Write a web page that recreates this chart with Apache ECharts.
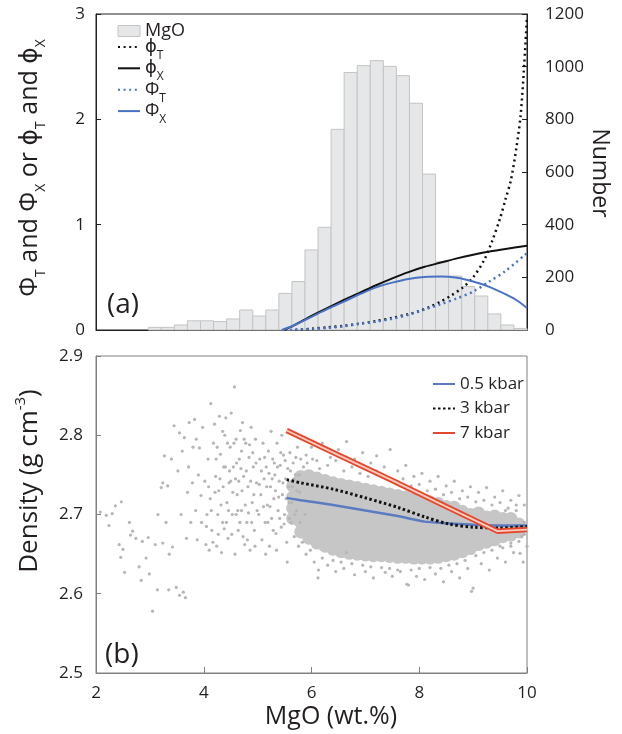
<!DOCTYPE html>
<html lang="en">
<head>
<meta charset="UTF-8">
<title>MgO histogram and melt density</title>
<script src="https://cdn.jsdelivr.net/npm/echarts@6/dist/echarts.min.js"></script>
<style>
    html, body { margin: 0; padding: 0; background: #fff; }
    #main { width: 622px; height: 734px; }
</style>
</head>
<body>
<div id="main"></div>
<script type="text/javascript">
    // ---- panel (a): MgO histogram, 33 bins between 2 and 10 wt.% ----
    var binStart = 2, binWidth = 8 / 33;
    var mgoCounts = [0, 0, 0, 0, 10, 10, 19, 35, 35, 32, 42, 76, 53, 76, 139, 184, 304, 390,
                     762, 978, 1004, 1023, 1001, 966, 861, 592, 259, 205, 165, 129, 61, 19, 6];

    // curves on the left axis, [MgO, value]
    var phiT = [[5.70, 0.0], [6.0, 0.012], [6.3, 0.025], [6.6, 0.04], [6.9, 0.06], [7.2, 0.085],
                [7.5, 0.115], [7.8, 0.15], [8.0, 0.18], [8.2, 0.22], [8.4, 0.27], [8.6, 0.33],
                [8.8, 0.40], [9.0, 0.50], [9.2, 0.66], [9.35, 0.84], [9.5, 1.06], [9.6, 1.24],
                [9.7, 1.42], [9.8, 1.72], [9.88, 2.03], [9.94, 2.45], [10.0, 2.97]];
    var phiX = [[5.50, 0.0], [5.7, 0.05], [6.0, 0.135], [6.3, 0.21], [6.6, 0.285], [6.9, 0.355],
                [7.2, 0.425], [7.5, 0.49], [7.8, 0.55], [8.1, 0.60], [8.4, 0.64], [8.7, 0.68],
                [9.0, 0.715], [9.3, 0.745], [9.6, 0.77], [10.0, 0.80]];
    var bigPhiT = [[5.60, 0.0], [6.0, 0.01], [6.3, 0.02], [6.6, 0.035], [6.9, 0.06], [7.2, 0.08],
                   [7.5, 0.107], [7.8, 0.145], [8.1, 0.195], [8.4, 0.245], [8.7, 0.30], [9.0, 0.365],
                   [9.3, 0.46], [9.6, 0.56], [10.0, 0.73]];
    var bigPhiX = [[5.45, 0.0], [5.7, 0.05], [6.0, 0.125], [6.3, 0.20], [6.6, 0.27], [6.9, 0.34],
                   [7.2, 0.405], [7.5, 0.45], [7.8, 0.485], [8.1, 0.503], [8.4, 0.507], [8.7, 0.495],
                   [9.0, 0.46], [9.3, 0.41], [9.6, 0.34], [9.8, 0.285], [10.0, 0.21]];

    // ---- panel (b): density vs MgO ----
    var kbar05 = [[5.54, 2.721], [5.8, 2.718], [6.4, 2.712], [7.0, 2.705], [7.6, 2.698], [8.1, 2.691],
                  [8.5, 2.689], [9.0, 2.687], [9.5, 2.686], [10.0, 2.686]];
    var kbar3 = [[5.54, 2.744], [5.8, 2.740], [6.4, 2.732], [7.0, 2.721], [7.6, 2.709], [8.1, 2.697],
                 [8.55, 2.688], [9.0, 2.684], [9.5, 2.683], [10.0, 2.685]];
    var kbar7 = [[5.54, 2.806], [6.5, 2.775], [7.5, 2.743], [8.5, 2.710], [9.45, 2.679], [10.0, 2.681]];

    // scattered samples around the cloud, [MgO, density]
    var samplePts = [
        [2.08,2.703],[2.19,2.699],[2.24,2.686],[2.30,2.701],[2.36,2.711],[2.47,2.716],[2.43,2.662],[2.50,2.656],
        [2.46,2.646],[2.53,2.627],[2.64,2.674],[2.68,2.679],[2.74,2.670],[2.80,2.634],[2.86,2.666],[2.84,2.617],
        [2.93,2.645],[2.99,2.625],[2.97,2.671],[2.62,2.690],
        [3.05,2.578],[3.10,2.662],[3.14,2.605],[3.21,2.734],[3.24,2.740],[3.24,2.664],[3.27,2.774],[3.30,2.690],
        [3.33,2.736],[3.36,2.650],[3.42,2.659],[3.45,2.812],[3.49,2.608],[3.52,2.755],[3.55,2.803],[3.55,2.598],
        [3.58,2.700],[3.62,2.602],[3.64,2.797],[3.66,2.595],[3.70,2.728],[3.72,2.760],[3.73,2.816],[3.76,2.690],
        [3.79,2.740],[3.80,2.785],[3.83,2.820],[3.85,2.705],[3.86,2.795],[3.88,2.668],[3.90,2.750],[3.92,2.784],
        [3.95,2.724],[3.96,2.690],[3.98,2.810],[3.40,2.770],[3.60,2.780],[3.68,2.670],[3.15,2.700],[3.35,2.605],
        [4.02,2.742],[4.04,2.662],[4.06,2.700],[4.08,2.770],[4.10,2.655],[4.13,2.840],[4.12,2.720],[4.15,2.680],
        [4.18,2.790],[4.20,2.814],[4.22,2.748],[4.24,2.660],[4.26,2.700],[4.28,2.730],[4.29,2.824],[4.31,2.776],
        [4.33,2.652],[4.35,2.690],[4.37,2.760],[4.39,2.800],[4.41,2.822],[4.43,2.715],[4.45,2.670],[4.47,2.740],
        [4.49,2.785],[4.51,2.828],[4.53,2.700],[4.55,2.760],[4.57,2.861],[4.58,2.650],[4.60,2.795],[4.62,2.725],
        [4.64,2.680],[4.66,2.770],[4.68,2.806],[4.70,2.705],[4.72,2.816],[4.74,2.748],[4.76,2.662],[4.78,2.790],
        [4.80,2.690],[4.82,2.735],[4.84,2.772],[4.86,2.655],[4.88,2.810],[4.90,2.715],[4.92,2.760],[4.94,2.680],
        [4.96,2.795],[4.98,2.740],[4.35,2.805],[4.50,2.742],[4.70,2.780],[4.25,2.785],[4.60,2.700],
        [4.05,2.685],[4.09,2.735],[4.14,2.705],[4.17,2.665],[4.21,2.728],[4.23,2.770],[4.27,2.675],[4.30,2.745],
        [4.32,2.712],[4.36,2.735],[4.38,2.682],[4.40,2.760],[4.42,2.690],[4.44,2.790],[4.46,2.705],[4.48,2.755],
        [4.52,2.675],[4.54,2.728],[4.56,2.790],[4.59,2.745],[4.61,2.765],[4.63,2.705],[4.65,2.742],[4.67,2.690],
        [4.69,2.758],[4.71,2.730],[4.73,2.672],[4.75,2.795],[4.77,2.712],[4.79,2.755],[4.81,2.668],[4.83,2.702],
        [4.85,2.788],[4.87,2.742],[4.89,2.690],[4.91,2.778],[4.93,2.725],[4.95,2.660],[4.97,2.765],[4.99,2.705],
        [5.02,2.700],[5.04,2.770],[5.06,2.725],[5.08,2.668],[5.10,2.790],[5.12,2.745],[5.14,2.690],[5.16,2.760],
        [5.18,2.712],[5.20,2.780],[5.22,2.660],[5.24,2.735],[5.26,2.695],[5.28,2.770],[5.30,2.720],[5.32,2.750],
        [5.34,2.676],[5.36,2.790],[5.38,2.705],[5.40,2.742],[5.42,2.762],[5.44,2.684],[5.46,2.725],[5.48,2.775],
        [5.50,2.700],[5.52,2.745],[5.54,2.665],[5.56,2.758],[5.58,2.715],[5.60,2.778],[5.62,2.690],[5.64,2.735],
        [5.66,2.765],[5.68,2.672],[5.70,2.750],[5.72,2.705],[5.74,2.785],[5.76,2.660],[5.78,2.728],[5.80,2.770],
        [5.15,2.650],[5.35,2.655],[5.55,2.640],[5.25,2.805],[5.45,2.800],
        [5.03,2.738],[5.07,2.755],[5.11,2.710],[5.13,2.772],[5.17,2.735],[5.19,2.690],[5.21,2.752],[5.23,2.710],
        [5.27,2.745],[5.29,2.680],[5.31,2.765],[5.33,2.730],[5.37,2.760],[5.39,2.722],[5.41,2.695],[5.43,2.778],
        [5.47,2.740],[5.49,2.688],[5.51,2.768],[5.53,2.720],[5.57,2.735],[5.59,2.695],[5.61,2.755],[5.63,2.715],
        [5.67,2.745],[5.69,2.700],[5.71,2.772],[5.73,2.730],[5.77,2.750],[5.79,2.690],[5.85,2.760],[5.88,2.700],
        [5.92,2.765],[5.98,2.655],[6.02,2.770],[5.83,2.665],
        [5.90,2.775],[6.00,2.785],[6.10,2.768],[6.20,2.790],[6.35,2.772],[6.50,2.782],[6.65,2.792],[6.80,2.770],
        [6.95,2.778],[7.10,2.765],[7.21,2.774],[7.35,2.760],[7.46,2.782],[7.60,2.755],[7.75,2.762],[7.90,2.748],
        [8.05,2.752],[8.20,2.742],[8.35,2.748],[8.50,2.736],[8.65,2.742],[8.80,2.730],[8.95,2.735],[9.10,2.728],
        [9.25,2.734],[9.40,2.722],[9.55,2.730],[9.70,2.718],[9.85,2.724],[9.95,2.712],
        [6.15,2.758],[6.30,2.762],[6.45,2.768],[6.60,2.755],[6.75,2.760],[6.90,2.752],[7.05,2.748],[7.20,2.755],
        [7.40,2.745],[7.55,2.740],[7.70,2.745],[7.85,2.736],[8.00,2.738],[8.15,2.730],[8.30,2.732],[8.45,2.725],
        [8.60,2.728],[8.75,2.720],[8.90,2.722],[9.05,2.716],[9.20,2.718],[9.35,2.712],[9.50,2.715],[9.65,2.708],
        [9.80,2.712],
        [5.90,2.650],[6.05,2.640],[6.13,2.630],[6.12,2.620],[6.30,2.636],[6.45,2.628],[6.60,2.632],[6.65,2.652],
        [6.80,2.624],[7.00,2.628],[7.15,2.620],[7.37,2.627],[7.50,2.622],[7.65,2.628],[7.77,2.612],[7.80,2.611],
        [7.95,2.622],[8.10,2.618],[8.30,2.625],[8.45,2.615],[8.60,2.628],[8.75,2.620],[8.90,2.632],[8.97,2.603],
        [9.00,2.607],[9.15,2.638],[9.30,2.630],[9.45,2.645],[9.60,2.640],[9.75,2.652],[9.87,2.651],[9.93,2.640],
        [6.20,2.645],[6.40,2.642],[6.55,2.640],[6.75,2.638],[6.95,2.636],[7.10,2.634],[7.30,2.633],[7.45,2.632],
        [7.60,2.630],[7.85,2.630],[8.00,2.632],[8.20,2.633],[8.40,2.632],[8.55,2.636],[8.70,2.638],[8.85,2.642],
        [9.05,2.648],[9.20,2.652],[9.35,2.655],[9.55,2.658],[9.70,2.664],[9.85,2.666],[9.95,2.675],
        [10.0,2.660],[9.50,2.660],[9.60,2.705],[9.70,2.660],[9.80,2.705],[9.90,2.672],[9.95,2.690]
    ];

    // the dense core of the cloud, read column by column: [MgO, [densities]]
    var coreCols = [
        [5.65, [2.695, 2.708, 2.722, 2.736]],
        [5.80, [2.678, 2.690, 2.702, 2.714, 2.726, 2.738, 2.748]],
        [5.95, [2.670, 2.682, 2.694, 2.706, 2.718, 2.730, 2.742, 2.749]],
        [6.10, [2.664, 2.676, 2.688, 2.700, 2.712, 2.724, 2.736, 2.746]],
        [6.25, [2.660, 2.672, 2.684, 2.696, 2.708, 2.720, 2.732, 2.743]],
        [6.40, [2.656, 2.668, 2.680, 2.692, 2.704, 2.716, 2.728, 2.740]],
        [6.55, [2.653, 2.665, 2.677, 2.689, 2.701, 2.713, 2.725, 2.738]],
        [6.70, [2.651, 2.663, 2.675, 2.687, 2.699, 2.711, 2.723, 2.736]],
        [6.85, [2.650, 2.661, 2.673, 2.685, 2.697, 2.709, 2.721, 2.734]],
        [7.00, [2.649, 2.659, 2.671, 2.683, 2.695, 2.707, 2.719, 2.732]],
        [7.15, [2.648, 2.658, 2.670, 2.682, 2.694, 2.706, 2.718, 2.730]],
        [7.30, [2.648, 2.657, 2.669, 2.681, 2.693, 2.705, 2.717, 2.728]],
        [7.45, [2.647, 2.656, 2.668, 2.680, 2.692, 2.704, 2.716, 2.726]],
        [7.60, [2.646, 2.655, 2.667, 2.679, 2.691, 2.703, 2.715, 2.724]],
        [7.75, [2.646, 2.655, 2.667, 2.679, 2.691, 2.703, 2.714, 2.722]],
        [7.90, [2.645, 2.654, 2.666, 2.678, 2.690, 2.702, 2.713, 2.720]],
        [8.05, [2.645, 2.654, 2.666, 2.678, 2.690, 2.701, 2.712, 2.718]],
        [8.20, [2.645, 2.654, 2.666, 2.678, 2.690, 2.700, 2.710, 2.716]],
        [8.35, [2.646, 2.655, 2.667, 2.679, 2.690, 2.700, 2.709, 2.714]],
        [8.50, [2.648, 2.657, 2.669, 2.680, 2.691, 2.701, 2.710]],
        [8.65, [2.650, 2.659, 2.670, 2.681, 2.692, 2.702, 2.709]],
        [8.80, [2.653, 2.662, 2.673, 2.684, 2.695, 2.704]],
        [8.95, [2.657, 2.667, 2.678, 2.689, 2.700]],
        [9.10, [2.662, 2.673, 2.684, 2.695, 2.702]],
        [9.25, [2.665, 2.676, 2.687, 2.697]],
        [9.40, [2.668, 2.679, 2.690, 2.698]],
        [9.55, [2.672, 2.684, 2.695]],
        [9.70, [2.674, 2.686, 2.695]],
        [9.85, [2.678, 2.688]]
    ];

    var fontFam = "'Open Sans', 'DejaVu Sans', sans-serif";
    var ink = '#231f20';
    var frameGrey = '#808080';

    var histData = [];
    for (var i = 0; i < mgoCounts.length; i++) {
        if (mgoCounts[i] > 0) {
            histData.push([binStart + i * binWidth, binStart + (i + 1) * binWidth, mgoCounts[i]]);
        }
    }
    var corePts = [];
    for (var c = 0; c < coreCols.length; c++) {
        for (var k = 0; k < coreCols[c][1].length; k++) {
            corePts.push([coreCols[c][0], coreCols[c][1][k]]);
        }
    }

    var legendLabels = {
        'MgO': '{t|MgO}',
        'phiT': '{t|\u03D5}{s|T}',
        'phiX': '{t|\u03D5}{s|X}',
        'PhiT': '{t|\u03A6}{s|T}',
        'PhiX': '{t|\u03A6}{s|X}'
    };

    var myChart = echarts.init(document.getElementById('main'));

    var option = {
        animation: false,
        textStyle: { fontFamily: fontFam },
        grid: [
            { left: 96, top: 14, width: 431, height: 316, show: true, borderColor: ink, borderWidth: 1 },
            { left: 96, top: 356, width: 431, height: 317, show: true, borderColor: frameGrey, borderWidth: 1 }
        ],
        xAxis: [
            {
                gridIndex: 0, type: 'value', min: 2, max: 10, interval: 2,
                axisLine: { show: true, lineStyle: { color: ink } },
                axisTick: { show: true, inside: true, length: 5, lineStyle: { color: ink } },
                axisLabel: { show: false },
                splitLine: { show: false }
            },
            {
                gridIndex: 1, type: 'value', min: 2, max: 10, interval: 2,
                axisLine: { show: true, lineStyle: { color: frameGrey } },
                axisTick: { show: true, inside: true, length: 6, lineStyle: { color: frameGrey } },
                axisLabel: { fontSize: 17, color: ink, margin: 12, showMinLabel: true, showMaxLabel: true },
                splitLine: { show: false }
            }
        ],
        yAxis: [
            {
                gridIndex: 0, type: 'value', min: 0, max: 3, interval: 1,
                axisLine: { show: true, lineStyle: { color: ink } },
                axisTick: { show: true, inside: true, length: 5, lineStyle: { color: ink } },
                axisLabel: { fontSize: 17, color: ink, margin: 11, showMinLabel: true, showMaxLabel: true },
                splitLine: { show: false }
            },
            {
                gridIndex: 0, type: 'value', position: 'right', min: 0, max: 1200, interval: 200,
                axisLine: { show: true, lineStyle: { color: ink } },
                axisTick: { show: true, inside: true, length: 5, lineStyle: { color: ink } },
                axisLabel: {
                    fontSize: 17, color: ink, margin: 18, showMinLabel: true, showMaxLabel: true,
                    formatter: function (v) { return String(v); }
                },
                splitLine: { show: false }
            },
            {
                gridIndex: 1, type: 'value', min: 2.5, max: 2.9, interval: 0.1,
                axisLine: { show: true, lineStyle: { color: frameGrey } },
                axisTick: { show: true, inside: true, length: 5, lineStyle: { color: frameGrey } },
                axisLabel: {
                    fontSize: 17, color: ink, margin: 13, showMinLabel: true, showMaxLabel: true,
                    formatter: function (v) { return v.toFixed(1); }
                },
                splitLine: { show: false }
            }
        ],
        legend: [
            {
                left: 112, top: 17, orient: 'vertical', itemWidth: 22, itemHeight: 11, itemGap: -7.6,
                selectedMode: false,
                itemStyle: { opacity: 0 },
                data: [
                    { name: 'MgO', icon: 'rect', itemStyle: { color: '#e6e7e8', borderColor: '#c4c4c4', borderWidth: 1, opacity: 1 } },
                    'phiT', 'phiX', 'PhiT', 'PhiX'
                ],
                formatter: function (name) { return legendLabels[name]; },
                textStyle: {
                    color: ink,
                    rich: {
                        t: { fontSize: 18, lineHeight: 30, fontFamily: fontFam, color: ink },
                        s: { fontSize: 12, lineHeight: 13, padding: [17, 0, 0, 0], fontFamily: fontFam, color: ink }
                    }
                }
            },
            {
                left: 427, top: 367, orient: 'vertical', itemWidth: 22, itemHeight: 10, itemGap: 0.5,
                selectedMode: false,
                itemStyle: { opacity: 0 },
                data: ['0.5 kbar', '3 kbar', '7 kbar'],
                textStyle: { color: ink, fontSize: 17, lineHeight: 24 }
            }
        ],
        series: [
            {
                name: 'MgO', type: 'custom', xAxisIndex: 0, yAxisIndex: 1,
                data: histData,
                encode: { x: [0, 1], y: 2 },
                itemStyle: { color: '#e6e7e8', borderColor: '#c4c4c4' },
                renderItem: function (params, api) {
                    var p0 = api.coord([api.value(0), api.value(2)]);
                    var p1 = api.coord([api.value(1), 0]);
                    return {
                        type: 'rect',
                        shape: { x: p0[0], y: p0[1], width: p1[0] - p0[0], height: p1[1] - p0[1] },
                        style: { fill: '#e6e7e8', stroke: '#c4c4c4', lineWidth: 1 }
                    };
                },
                z: 1
            },
            {
                name: 'phiT', type: 'line', xAxisIndex: 0, yAxisIndex: 0, data: phiT,
                symbol: 'none', smooth: 0.3, color: '#111111',
                lineStyle: { color: '#111111', width: 2.5, type: [2, 3.6] }, z: 3
            },
            {
                name: 'phiX', type: 'line', xAxisIndex: 0, yAxisIndex: 0, data: phiX,
                symbol: 'none', smooth: 0.3, color: '#111111',
                lineStyle: { color: '#111111', width: 2 }, z: 3
            },
            {
                name: 'PhiT', type: 'line', xAxisIndex: 0, yAxisIndex: 0, data: bigPhiT,
                symbol: 'none', smooth: 0.3, color: '#4a72c4',
                lineStyle: { color: '#4a72c4', width: 2.5, type: [2, 3.6] }, z: 3
            },
            {
                name: 'PhiX', type: 'line', xAxisIndex: 0, yAxisIndex: 0, data: bigPhiX,
                symbol: 'none', smooth: 0.3, color: '#4a72c4',
                lineStyle: { color: '#4a72c4', width: 2 }, z: 3
            },
            {
                name: 'core', type: 'scatter', xAxisIndex: 1, yAxisIndex: 2, data: corePts,
                symbolSize: 13, itemStyle: { color: '#c6c6c6', opacity: 1 }, silent: true, z: 1
            },
            {
                name: 'samples', type: 'scatter', xAxisIndex: 1, yAxisIndex: 2, data: samplePts,
                symbolSize: 3.2, itemStyle: { color: '#b6b6b6', opacity: 1 }, silent: true, z: 1
            },
            {
                name: '0.5 kbar', type: 'line', xAxisIndex: 1, yAxisIndex: 2, data: kbar05,
                symbol: 'none', smooth: 0.2, color: '#5b7bc0',
                lineStyle: { color: '#5b7bc0', width: 2.5 }, z: 3
            },
            {
                name: '3 kbar', type: 'line', xAxisIndex: 1, yAxisIndex: 2, data: kbar3,
                symbol: 'none', smooth: 0.3, color: '#111111',
                lineStyle: { color: '#111111', width: 3, type: [2.5, 2.5] }, z: 4
            },
            {
                name: '7 kbar', type: 'line', xAxisIndex: 1, yAxisIndex: 2, data: kbar7,
                symbol: 'none', color: '#e5472c',
                lineStyle: { color: '#e5472c', width: 5.5 }, z: 5
            },
            {
                name: '7 kbar inner', type: 'line', xAxisIndex: 1, yAxisIndex: 2, data: kbar7,
                symbol: 'none', color: '#f9cdbf',
                lineStyle: { color: '#f9cdbf', width: 1.8 }, z: 6, silent: true
            }
        ],
        graphic: [
            {
                type: 'text', x: 30, y: 168, rotation: Math.PI / 2,
                style: {
                    text: '{t|\u03A6}{s|T}{t| and \u03A6}{s|X}{t| or \u03D5}{s|T}{t| and \u03D5}{s|X}',
                    align: 'center', verticalAlign: 'middle', fill: ink,
                    rich: {
                        t: { fontSize: 25, lineHeight: 38, fontFamily: fontFam, fill: ink },
                        s: { fontSize: 14, lineHeight: 15, padding: [23, 0, 0, 0], fontFamily: fontFam, fill: ink }
                    }
                }
            },
            {
                type: 'text', x: 600, y: 173, rotation: -Math.PI / 2,
                style: { text: 'Number', fontSize: 23, fontFamily: fontFam, fill: ink, align: 'center', verticalAlign: 'middle' }
            },
            {
                type: 'text', x: 30, y: 481, rotation: Math.PI / 2,
                style: {
                    text: '{t|Density (g cm}{u|-3}{t|)}',
                    align: 'center', verticalAlign: 'middle', fill: ink,
                    rich: {
                        t: { fontSize: 26, lineHeight: 36, fontFamily: fontFam, fill: ink },
                        u: { fontSize: 15, lineHeight: 16, padding: [0, 0, 18, 0], fontFamily: fontFam, fill: ink }
                    }
                }
            },
            {
                type: 'text', x: 331, y: 717,
                style: { text: 'MgO (wt.%)', fontSize: 25, fontFamily: fontFam, fill: ink, align: 'center', verticalAlign: 'middle' }
            },
            {
                type: 'text', x: 107, y: 305,
                style: { text: '(a)', fontSize: 28, fontFamily: fontFam, fill: ink, align: 'left', verticalAlign: 'middle' }
            },
            {
                type: 'text', x: 105, y: 655,
                style: { text: '(b)', fontSize: 28, fontFamily: fontFam, fill: ink, align: 'left', verticalAlign: 'middle' }
            }
        ]
    };

    myChart.setOption(option);
</script>
</body>
</html>
